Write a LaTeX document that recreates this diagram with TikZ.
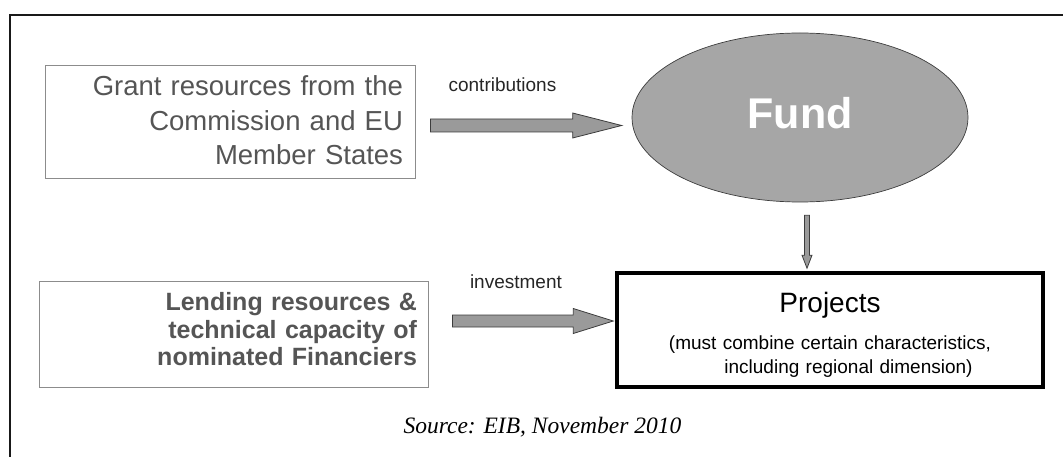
\documentclass[tikz,border=0pt]{standalone}
\usepackage{fontspec}
\setmainfont{Liberation Sans}
\newfontfamily\sourcefont{Liberation Serif}
\usetikzlibrary{shapes.geometric, calc}

\definecolor{boxline}{HTML}{8C8C8C}
\definecolor{boxtext}{HTML}{555555}
\definecolor{fundfill}{HTML}{A6A6A6}
\definecolor{arrowfill}{HTML}{9A9A9A}
\definecolor{arrowline}{HTML}{3C3C3C}

\tikzstyle{resource} = [rectangle, draw=boxline, line width=0.9pt, align=right, text=boxtext, inner ysep=0pt]
\tikzstyle{fund} = [ellipse, minimum width=336pt, minimum height=169pt, inner sep=0pt, draw=arrowline, line width=0.7pt, fill=fundfill, text=white, font=\fontsize{43pt}{43pt}\selectfont\bfseries, text depth=10pt]
\tikzstyle{target} = [rectangle, draw=black, line width=3.5pt, inner sep=0pt, text width=426pt, align=center, font=\fontsize{19pt}{24pt}\selectfont]
\tikzstyle{flowlabel} = [font=\fontsize{19pt}{19pt}\selectfont, text=black!85, inner sep=0pt]
\tikzstyle{frameline} = [line width=2pt, draw=black!90]
\tikzset{fatarrow/.style n args={3}{draw=arrowline, fill=arrowfill, line width=0.8pt, line join=miter,
  to path={($(\tikztostart)!#1!90:(\tikztotarget)$)
    -- ($($(\tikztotarget)!#3!(\tikztostart)$)!#1!90:(\tikztotarget)$)
    -- ($($(\tikztotarget)!#3!(\tikztostart)$)!#2!90:(\tikztotarget)$)
    -- (\tikztotarget)
    -- ($($(\tikztotarget)!#3!(\tikztostart)$)!#2!-90:(\tikztotarget)$)
    -- ($($(\tikztotarget)!#3!(\tikztostart)$)!#1!-90:(\tikztotarget)$)
    -- ($(\tikztostart)!#1!-90:(\tikztotarget)$) -- cycle}}}

\begin{document}
\begin{tikzpicture}[x=1pt, y=-1pt]

\useasboundingbox (0,0) rectangle (1063,457);
\draw[frameline] (10,457) -- (10,15) -- (1063,15);

%% NODES

\node (grant) [resource, text width=346pt, inner xsep=12pt, text height=31pt, text depth=82pt, font=\fontsize{27.5pt}{34.5pt}\selectfont] at (230,121.5) {Grant resources from the\\Commission and EU\\Member States};
\node (fund) [fund, right of=grant, node distance=570pt, yshift=4pt] {Fund};
\node (lending) [resource, below of=grant, node distance=212.5pt, xshift=3.5pt, text width=367pt, inner xsep=11pt, text height=29.5pt, text depth=76.5pt, font=\fontsize{25pt}{27.5pt}\selectfont\bfseries] {Lending resources \&\\technical capacity of\\nominated Financiers};
\node (projects) [target, below of=fund, node distance=212.5pt, xshift=30pt, text height=39pt, text depth=75pt] {{\fontsize{28pt}{28pt}\selectfont Projects}\\[13pt](must combine certain characteristics,\\\hspace*{37pt}including regional dimension)};

\node (contriblbl) [flowlabel] at ($(grant.north east)+(87,20)$) {contributions};
\node (investlbl) [flowlabel] at ($(lending.north east)+(87.5,1)$) {investment};
\node (source) [inner sep=0pt, font=\sourcefont\itshape\fontsize{23.5pt}{23.5pt}\selectfont] at ($(lending.south east)+(114,40)$) {Source: EIB, November 2010};

%% ARROWS

\draw [fatarrow={6.5pt}{12.5pt}{49pt}] ($(grant.east)+(15,4)$) to ($(fund.west)+(-10,8)$);
\draw [fatarrow={6pt}{12.5pt}{40pt}] ($(lending.east)+(24,-13)$) to ($(projects.west)+(-2,-9)$);
\draw [fatarrow={2.5pt}{5pt}{13pt}] ($(fund.south)+(7,13)$) to ($(projects.north)+(-23,-3)$);

\end{tikzpicture}
\end{document}
